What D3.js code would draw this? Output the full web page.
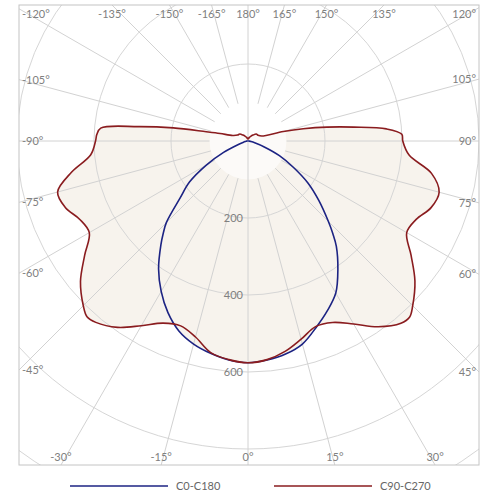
<!DOCTYPE html>
<html>
<head>
<meta charset="utf-8">
<script src="https://cdn.jsdelivr.net/npm/d3@7"></script>
<style>
  body { margin: 0; background: #fff; }
  text { font-family: Lato, "Open Sans", sans-serif; }
</style>
</head>
<body>
<div id="vis"></div>
<script>
// polar angles (deg from nadir), same list for every half-plane
var angles = [0, 5, 10, 15, 20, 25, 30, 35, 40, 42.5, 45, 50, 55, 60, 65, 70, 75, 80, 85, 90,
  92.5, 95, 97.5, 100, 102.5, 105, 110, 120, 130, 140, 150, 160, 170, 180];

// C0-C180 plane (cd)
var c0 = [576, 571, 562, 546, 516, 487, 456, 407, 357, 326, 295, 240, 190, 135, 90, 45, 18, 8, 4, 2,
  1, 1, 0, 0, 0, 0, 0, 0, 0, 0, 0, 0, 0, 0];
var c180 = [576, 571, 560, 546, 525, 492, 451, 405, 352, 326, 300, 230, 185, 125, 70, 28, 12, 6, 4, 2,
  1, 1, 0, 0, 0, 0, 0, 0, 0, 0, 0, 0, 0, 0];

// C90-C270 plane (cd)
var c90 = [576, 570, 555, 533, 513, 520, 549, 589, 618, 621, 605, 566, 517, 476, 482, 506, 514, 484, 420, 402,
  400, 361, 277, 208, 147, 95, 38, 30, 28, 20, 14, 10, 6, 4];
var c270 = [576, 570, 558, 527, 511, 522, 554, 591, 615, 619, 605, 568, 518, 476, 482, 505, 512, 465, 410, 396,
  393, 384, 287, 197, 111, 75, 42, 31, 28, 20, 14, 10, 6, 4];

var rings = [200, 400, 600, 800, 1000, 1200];
var ringLabels = [200, 400, 600];
var spokes = d3.range(-165, 181, 15);

var seriesNames = ["C0-C180", "C90-C270"];
var seriesColors = ["#1c2383", "#8a1c1f"];

var width = 500, height = 500;
var frame = { left: 19, top: 5, right: 479, bottom: 465 };
var cx = 248, cy = 141;

var r = d3.scaleLinear().domain([0, 1000]).range([0, 385]);

var svg = d3.select("#vis").append("svg")
  .attr("width", width)
  .attr("height", height);

svg.append("defs").append("clipPath")
  .attr("id", "frameClip")
  .append("rect")
  .attr("x", frame.left)
  .attr("y", frame.top)
  .attr("width", frame.right - frame.left)
  .attr("height", frame.bottom - frame.top);

function pt(deg, v) {
  var a = deg * Math.PI / 180;
  return [cx + r(v) * Math.sin(a), cy + r(v) * Math.cos(a)];
}

// left half uses negative angles, right half positive
function buildPoints(leftVals, rightVals) {
  var pts = [];
  for (var i = angles.length - 1; i >= 0; i--) pts.push(pt(-angles[i], leftVals[i]));
  for (var j = 1; j < angles.length; j++) pts.push(pt(angles[j], rightVals[j]));
  return pts;
}

var bluePts = buildPoints(c180, c0);
var redPts = buildPoints(c270, c90);

var line = d3.line().curve(d3.curveCatmullRom.alpha(0.5));

var plot = svg.append("g").attr("clip-path", "url(#frameClip)");

// fills
plot.selectAll(".area")
  .data([redPts, bluePts])
  .enter()
  .append("path")
  .attr("d", function (d) { return line(d) + "Z"; })
  .attr("fill", "#f7f3ed")
  .attr("stroke", "none");

// lighter disc in the middle
plot.append("circle")
  .attr("cx", cx)
  .attr("cy", cy)
  .attr("r", r(100))
  .attr("fill", "#fff")
  .attr("opacity", 0.6);

// rings
plot.selectAll(".ring")
  .data(rings)
  .enter()
  .append("circle")
  .attr("cx", cx)
  .attr("cy", cy)
  .attr("r", function (d) { return r(d); })
  .attr("fill", "none")
  .attr("stroke", "#d6d6d6")
  .attr("stroke-width", 1);

// spokes
plot.selectAll(".spoke")
  .data(spokes)
  .enter()
  .append("line")
  .attr("x1", function (d) { return (d === 0 || d === 180) ? cx : pt(d, 100)[0]; })
  .attr("y1", function (d) { return (d === 0 || d === 180) ? cy : pt(d, 100)[1]; })
  .attr("x2", function (d) { return pt(d, 1500)[0]; })
  .attr("y2", function (d) { return pt(d, 1500)[1]; })
  .attr("stroke", "#d2d2d2")
  .attr("stroke-width", 1);

// curves
plot.selectAll(".curve")
  .data([bluePts, redPts])
  .enter()
  .append("path")
  .attr("d", function (d) { return line(d); })
  .attr("fill", "none")
  .attr("stroke", function (d, i) { return seriesColors[i]; })
  .attr("stroke-width", 1.6);

// frame
svg.append("rect")
  .attr("x", frame.left)
  .attr("y", frame.top)
  .attr("width", frame.right - frame.left)
  .attr("height", frame.bottom - frame.top)
  .attr("fill", "none")
  .attr("stroke", "#c4c4c4")
  .attr("stroke-width", 1);

// angle labels where each spoke meets the frame
spokes.forEach(function (d) {
  var a = d * Math.PI / 180;
  var dx = Math.sin(a), dy = Math.cos(a);
  var ts = [];
  if (dx < -1e-6) ts.push({ t: (frame.left - cx) / dx, side: "left" });
  if (dx > 1e-6) ts.push({ t: (frame.right - cx) / dx, side: "right" });
  if (dy < -1e-6) ts.push({ t: (frame.top - cy) / dy, side: "top" });
  if (dy > 1e-6) ts.push({ t: (frame.bottom - cy) / dy, side: "bottom" });
  var hit = ts.sort(function (p, q) { return p.t - q.t; })[0];
  var ix = cx + hit.t * dx, iy = cy + hit.t * dy;
  var txt = svg.append("text")
    .attr("font-size", "11px")
    .attr("fill", "#808080")
    .text(d + "°");
  if (hit.side === "top") {
    txt.attr("x", ix).attr("y", 18).attr("text-anchor", "middle");
  } else if (hit.side === "bottom") {
    txt.attr("x", ix).attr("y", 461).attr("text-anchor", "middle");
  } else {
    var yy = Math.max(14, Math.min(455, iy)) + 4;
    if (hit.side === "left") txt.attr("x", frame.left + 3).attr("y", yy).attr("text-anchor", "start");
    else txt.attr("x", frame.right - 3).attr("y", yy).attr("text-anchor", "end");
  }
});

// ring value labels
svg.selectAll(".ringLabel")
  .data(ringLabels)
  .enter()
  .append("text")
  .attr("x", cx - 5)
  .attr("y", function (d) { return cy + r(d) + 4; })
  .attr("text-anchor", "end")
  .attr("font-size", "11px")
  .attr("fill", "#808080")
  .text(function (d) { return d; });

// legend
var legendX = [70, 274];
seriesNames.forEach(function (name, i) {
  svg.append("line")
    .attr("x1", legendX[i])
    .attr("x2", legendX[i] + 98)
    .attr("y1", 486)
    .attr("y2", 486)
    .attr("stroke", seriesColors[i])
    .attr("stroke-width", 1.6);
  svg.append("text")
    .attr("x", legendX[i] + 106)
    .attr("y", 490)
    .attr("font-size", "11px")
    .attr("fill", "#666")
    .text(name);
});
</script>
</body>
</html>
